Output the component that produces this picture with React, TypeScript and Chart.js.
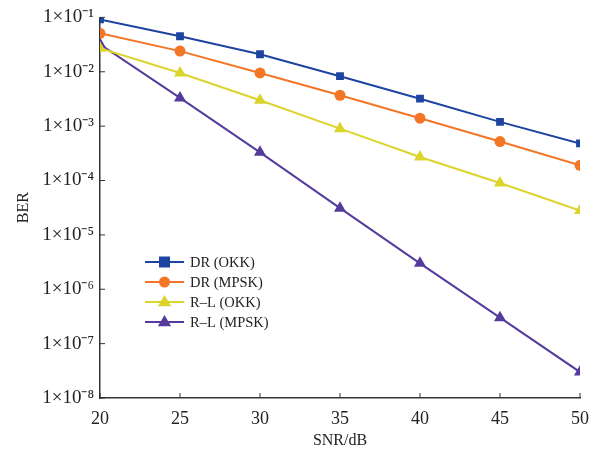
import React, { useEffect, useRef } from "react";
import { Chart, registerables } from "chart.js";

Chart.register(...registerables);

const snr = [20, 25, 30, 35, 40, 45, 50];
const drOkk = [0.092, 0.045, 0.021, 0.0083, 0.0032, 0.0012, 0.00048];
const drMpsk = [0.051, 0.024, 0.0095, 0.0037, 0.0014, 0.00052, 0.00019];
const rlOkk = [0.027, 0.0095, 0.003, 0.0009, 0.00027, 0.00009, 0.000028];
const rlMpsk = [0.032, 0.0033, 0.00033, 0.000031, 0.000003, 0.0000003, 0.00000003];
const seriesLabels = ["DR (OKK)", "DR (MPSK)", "R\u2013L (OKK)", "R\u2013L (MPSK)"];
const yTickExps = [-1, -2, -3, -4, -5, -6, -7, -8];
const xTicks = [20, 25, 30, 35, 40, 45, 50];

const SUP: Record<string, string> = {
  "-": "\u207B", "0": "\u2070", "1": "\u00B9", "2": "\u00B2", "3": "\u00B3",
  "4": "\u2074", "5": "\u2075", "6": "\u2076", "7": "\u2077", "8": "\u2078", "9": "\u2079",
};

const FONT = "'Liberation Serif', 'Times New Roman', serif";
const AXIS_COLOR = "#333333";

const insideTicks = {
  id: "insideTicks",
  afterDraw(chart: any) {
    const ctx = chart.ctx;
    const { left, bottom } = chart.chartArea;
    const xs = chart.scales.x;
    const ys = chart.scales.y;
    ctx.save();
    ctx.strokeStyle = AXIS_COLOR;
    ctx.lineWidth = 1;
    xs.ticks.forEach((t: any) => {
      const px = xs.getPixelForValue(t.value);
      ctx.beginPath();
      ctx.moveTo(px, bottom);
      ctx.lineTo(px, bottom - 5);
      ctx.stroke();
    });
    ys.ticks.forEach((t: any) => {
      const py = ys.getPixelForValue(t.value);
      ctx.beginPath();
      ctx.moveTo(left, py);
      ctx.lineTo(left + 5, py);
      ctx.stroke();
    });
    ctx.restore();
  },
};

const innerLegend = {
  id: "innerLegend",
  afterDraw(chart: any) {
    const ctx = chart.ctx;
    const x0 = 145;
    const y0 = 262;
    const gap = 20;
    ctx.save();
    chart.data.datasets.forEach((ds: any, i: number) => {
      const y = y0 + i * gap;
      ctx.strokeStyle = ds.borderColor;
      ctx.lineWidth = 2;
      ctx.beginPath();
      ctx.moveTo(x0, y);
      ctx.lineTo(x0 + 39, y);
      ctx.stroke();
      ctx.fillStyle = ds.backgroundColor;
      const cx = x0 + 19.5;
      const r = ds.pointRadius;
      ctx.beginPath();
      if (ds.pointStyle === "rect") {
        ctx.rect(cx - r, y - r, 2 * r, 2 * r);
      } else if (ds.pointStyle === "circle") {
        ctx.arc(cx, y, r, 0, Math.PI * 2);
      } else {
        ctx.moveTo(cx, y - r);
        ctx.lineTo(cx + r * 0.95, y + r * 0.6);
        ctx.lineTo(cx - r * 0.95, y + r * 0.6);
        ctx.closePath();
      }
      ctx.fill();
      ctx.fillStyle = "#222";
      ctx.font = `14.5px ${FONT}`;
      ctx.textBaseline = "middle";
      ctx.textAlign = "left";
      ctx.fillText(ds.label, x0 + 45, y + 1);
    });
    ctx.restore();
  },
};

export default function App() {
  const ref = useRef<HTMLCanvasElement>(null);
  useEffect(() => {
    if (!ref.current) return;
    const mk = (label: string, data: number[], color: string, style: string, r: number) => ({
      label,
      data: snr.map((x, i) => ({ x, y: data[i] })),
      borderColor: color,
      backgroundColor: color,
      borderWidth: 2,
      pointStyle: style,
      pointRadius: r,
      pointHoverRadius: r,
      pointBorderWidth: 0,
      tension: 0,
    });
    const chart = new Chart(ref.current, {
      type: "line",
      data: {
        datasets: [
          mk(seriesLabels[0], drOkk, "#1c44a0", "rect", 5.5),
          mk(seriesLabels[1], drMpsk, "#f37526", "circle", 5.5),
          mk(seriesLabels[2], rlOkk, "#dcd42c", "triangle", 7),
          mk(seriesLabels[3], rlMpsk, "#553c9c", "triangle", 7),
        ],
      },
      options: {
        animation: false,
        responsive: true,
        maintainAspectRatio: false,
        layout: { padding: { left: 14, top: 15, right: 24, bottom: 6 } },
        plugins: { legend: { display: false }, tooltip: { enabled: false } },
        scales: {
          x: {
            type: "linear",
            min: 20,
            max: 50,
            afterBuildTicks: (s: any) => {
              s.ticks = xTicks.map((v) => ({ value: v }));
            },
            ticks: {
              font: { family: FONT, size: 18 },
              color: "#222",
              padding: 10,
              maxRotation: 0,
              callback: (v: any) => String(v),
            },
            grid: { display: true, drawOnChartArea: false, drawTicks: false, color: "rgba(0,0,0,0)" },
            border: { display: true, color: AXIS_COLOR, width: 1.5 },
            title: { display: true, text: "SNR/dB", font: { family: FONT, size: 16 }, color: "#222", padding: { top: 2, bottom: 0 } },
            afterFit: (s: any) => {
              s.height = 52;
            },
          },
          y: {
            type: "logarithmic",
            min: 1e-8,
            max: 1e-1,
            afterBuildTicks: (s: any) => {
              s.ticks = yTickExps.map((e) => ({ value: Math.pow(10, e) }));
            },
            ticks: {
              font: { family: FONT, size: 19 },
              color: "#222",
              padding: 6,
              callback: (v: any) => {
                const e = Math.round(Math.log10(Number(v)));
                return "1\u00D710" + String(e).split("").map((c) => SUP[c] || c).join("");
              },
            },
            grid: { display: true, drawOnChartArea: false, drawTicks: false, color: "rgba(0,0,0,0)" },
            border: { display: true, color: AXIS_COLOR, width: 1.5 },
            title: { display: true, text: "BER", font: { family: FONT, size: 16 }, color: "#222", padding: { top: 0, bottom: 4 } },
            afterFit: (s: any) => {
              s.width = 86;
            },
          },
        },
      },
      plugins: [insideTicks, innerLegend],
    } as any);
    return () => chart.destroy();
  }, []);
  return (
    <div style={{ position: "absolute", left: 0, top: 0, width: 604, height: 456 }}>
      <canvas ref={ref} />
    </div>
  );
}
